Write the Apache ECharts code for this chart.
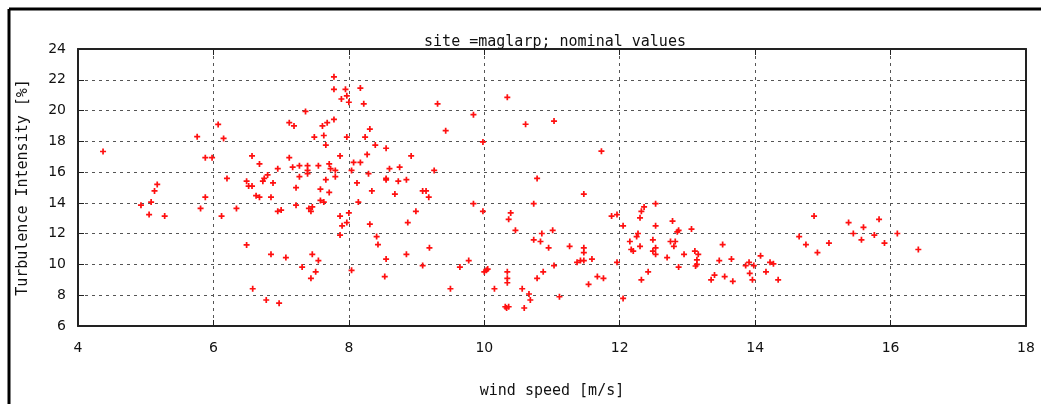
<!DOCTYPE html>
<html>
<head>
<meta charset="utf-8">
<script src="https://cdn.jsdelivr.net/npm/echarts@6/dist/echarts.min.js"></script>
<style>
  html, body { margin: 0; padding: 0; background: #fff; }
  #chart { width: 1041px; height: 404px; }
</style>
</head>
<body>
<div id="chart"></div>
<script>
var chartTitle = 'site =maglarp; nominal values';
var xName = 'wind speed [m/s]';
var yName = 'Turbulence Intensity [%]';

// wind speed [m/s]
var windSpeed = [
  4.37, 4.93, 5.05, 5.08, 5.13, 5.17, 5.28, 5.76, 5.88, 5.98, 5.88, 5.81,
  6.07, 6.15, 6.20, 6.12, 6.34, 6.49, 6.57, 6.68, 6.49, 6.52, 6.57, 6.63,
  6.68, 6.73, 6.75, 6.80, 6.88, 6.85, 6.95, 6.95, 7.00, 6.85, 7.07, 6.58,
  6.78, 6.97, 7.12, 7.19, 7.12, 7.17, 7.27, 7.27, 7.22, 7.22, 7.36, 7.39,
  7.39, 7.39, 7.41, 7.44, 7.46, 7.46, 7.55, 7.31, 7.51, 7.44, 7.49, 7.63,
  7.66, 7.61, 7.68, 7.78, 7.55, 7.71, 7.73, 7.66, 7.80, 7.80, 7.58, 7.71,
  7.58, 7.63, 7.87, 7.97, 7.78, 7.78, 7.95, 7.89, 7.97, 8.00, 7.87, 7.90,
  7.97, 8.00, 7.87,
  8.17, 8.22, 8.31, 8.24, 8.39, 8.55, 8.27, 8.92, 8.07, 8.17, 8.04, 8.29,
  8.60, 8.75, 8.12, 8.55, 8.55, 8.73, 8.85, 9.26, 8.34, 8.68, 9.09, 9.14,
  9.18, 8.14, 8.99, 8.31, 8.87, 8.41, 8.43, 9.19, 8.85, 8.55, 9.09, 8.04,
  8.53, 9.31, 9.43, 9.50, 9.64, 9.77, 9.84, 9.98, 9.84, 9.98, 10.00, 10.03,
  10.05, 10.34, 10.61, 10.78, 10.73, 10.39, 10.36, 10.46, 10.73, 10.83, 10.85, 10.95,
  10.87, 10.78, 10.34, 10.34, 10.34, 10.15, 10.56, 10.66, 10.68, 10.59, 10.31, 10.33,
  10.36,
  11.03, 11.01, 11.03, 11.11, 11.26, 11.47, 11.47, 11.47, 11.47, 11.37, 11.42, 11.59,
  11.54, 11.67, 11.76, 11.73, 11.88, 11.96, 11.96, 12.05, 12.05, 12.15, 12.17, 12.20,
  12.25, 12.27, 12.30, 12.30, 12.32, 12.36, 12.53, 12.53, 12.49, 12.49, 12.53, 12.53,
  12.42, 12.32, 12.70, 12.75, 12.80, 12.82, 12.78, 12.85, 12.87, 12.87, 12.95, 13.06,
  13.11, 13.16, 13.14, 13.12, 13.14, 13.35, 13.40, 13.47, 13.52, 13.55, 13.65, 13.67,
  13.86, 13.91, 13.92, 13.96, 13.98, 14.08, 14.16, 14.22,
  14.27, 14.34, 14.65, 14.75, 14.87, 14.92, 15.09, 15.38, 15.45, 15.57, 15.60, 15.76,
  15.83, 15.91, 16.10, 16.41
];

// turbulence intensity [%]
var turbulence = [
  17.34, 13.85, 13.24, 14.05, 14.78, 15.20, 13.14, 18.30, 16.94, 16.94, 14.37, 13.64,
  19.10, 18.19, 15.59, 13.14, 13.64, 11.27, 17.05, 16.53, 15.41, 15.09, 15.09, 14.47,
  14.37, 15.41, 15.59, 15.82, 15.30, 14.37, 16.22, 13.45, 13.53, 10.66, 10.45, 8.42,
  7.69, 7.48, 19.21, 19.00, 16.94, 16.32, 16.42, 15.70, 14.99, 13.85, 19.94, 16.42,
  16.11, 15.90, 13.64, 13.45, 13.74, 10.66, 10.25, 9.83, 9.52, 9.10, 18.28, 18.38,
  17.76, 19.00, 19.21, 19.42, 16.42, 16.53, 16.22, 15.51, 16.11, 15.70, 14.89, 14.68,
  14.16, 14.05, 17.05, 18.28, 22.19, 21.38, 21.38, 20.75, 20.96, 20.54, 13.14, 12.51,
  12.72, 13.35, 11.91,
  21.46, 20.44, 18.80, 18.28, 17.76, 17.55, 17.15, 17.05, 16.63, 16.63, 16.11, 15.90,
  16.22, 16.32, 15.30, 15.59, 15.50, 15.41, 15.51, 16.11, 14.78, 14.57, 14.78, 14.78,
  14.37, 14.05, 13.45, 12.62, 12.72, 11.81, 11.29, 11.08, 10.66, 10.35, 9.93, 9.62,
  9.21, 20.44, 18.69, 8.42, 9.83, 10.25, 19.73, 17.96, 13.95, 13.45, 9.52, 9.62,
  9.70, 20.86, 19.11, 15.59, 13.95, 13.35, 12.93, 12.22, 11.60, 11.49, 12.01, 11.08,
  9.52, 9.10, 9.52, 9.10, 8.81, 8.42, 8.42, 8.08, 7.69, 7.17, 7.25, 7.17,
  7.25,
  19.32, 12.22, 9.93, 7.90, 11.18, 14.57, 11.08, 10.77, 10.25, 10.14, 10.25, 10.35,
  8.71, 9.21, 9.10, 17.36, 13.14, 13.24, 10.14, 7.79, 12.51, 11.49, 10.97, 10.87,
  11.81, 12.01, 11.18, 13.03, 13.45, 13.74, 13.95, 12.51, 11.60, 10.87, 11.08, 10.66,
  9.52, 9.00, 10.45, 11.49, 11.18, 11.49, 12.82, 12.12, 12.22, 9.83, 10.66, 12.30,
  10.87, 10.66, 10.30, 9.90, 10.00, 9.00, 9.31, 10.25, 11.29, 9.21, 10.35, 8.90,
  9.93, 10.14, 9.42, 9.00, 9.93, 10.56, 9.52, 10.14,
  10.04, 9.00, 11.81, 11.29, 13.14, 10.77, 11.39, 12.72, 12.01, 11.60, 12.41, 11.91,
  12.93, 11.39, 12.01, 10.97
];

var points = windSpeed.map(function (x, i) { return [x, turbulence[i]]; });

var myChart = echarts.init(document.getElementById('chart'));

var gridLine = { show: true, lineStyle: { color: '#555', width: 1, type: [3, 4] } };
var tick = { show: true, inside: true, length: 6, lineStyle: { color: '#222', width: 1 } };
var frame = { show: true, onZero: false, lineStyle: { color: '#222', width: 2 } };
var tickFont = { color: '#111', fontSize: 14, fontFamily: 'DejaVu Sans' };
var nameFont = { color: '#111', fontSize: 15, fontFamily: 'DejaVu Sans Mono' };

var option = {
    animation: false,
    backgroundColor: '#fff',
    title: {
        text: chartTitle,
        left: 550,
        top: 30,
        textAlign: 'center',
        textStyle: { color: '#111', fontSize: 15, fontWeight: 'normal', fontFamily: 'DejaVu Sans Mono' }
    },
    grid: { left: 78, right: 15, top: 49, bottom: 68, containLabel: false },
    xAxis: [
        {
            type: 'value', min: 4, max: 18, interval: 2,
            name: xName, nameLocation: 'middle', nameGap: 58, nameTextStyle: nameFont,
            axisLine: frame, axisTick: tick, splitLine: gridLine,
            axisLabel: Object.assign({ margin: 15 }, tickFont)
        },
        {
            type: 'value', position: 'top', min: 4, max: 18, interval: 2,
            axisLine: frame, axisTick: tick, splitLine: { show: false },
            axisLabel: { show: false }
        }
    ],
    yAxis: [
        {
            type: 'value', min: 6, max: 24, interval: 2,
            name: yName, nameLocation: 'middle', nameGap: 47, nameTextStyle: nameFont,
            axisLine: frame, axisTick: tick, splitLine: gridLine,
            axisLabel: Object.assign({ margin: 12 }, tickFont)
        },
        {
            type: 'value', position: 'right', min: 6, max: 24, interval: 2,
            axisLine: frame, axisTick: tick, splitLine: { show: false },
            axisLabel: { show: false }
        }
    ],
    graphic: [
        { type: 'line', shape: { x1: 9, y1: 9, x2: 1041, y2: 9 }, style: { stroke: '#000', lineWidth: 3 } },
        { type: 'line', shape: { x1: 9, y1: 9, x2: 9, y2: 404 }, style: { stroke: '#000', lineWidth: 3 } }
    ],
    series: [
        {
            type: 'scatter',
            data: points,
            symbol: 'path://M2.5,0H4.5V2.5H7V4.5H4.5V7H2.5V4.5H0V2.5H2.5Z',
            symbolSize: 6,
            itemStyle: { color: '#ff1010', opacity: 1 }
        }
    ]
};

myChart.setOption(option);
</script>
</body>
</html>
